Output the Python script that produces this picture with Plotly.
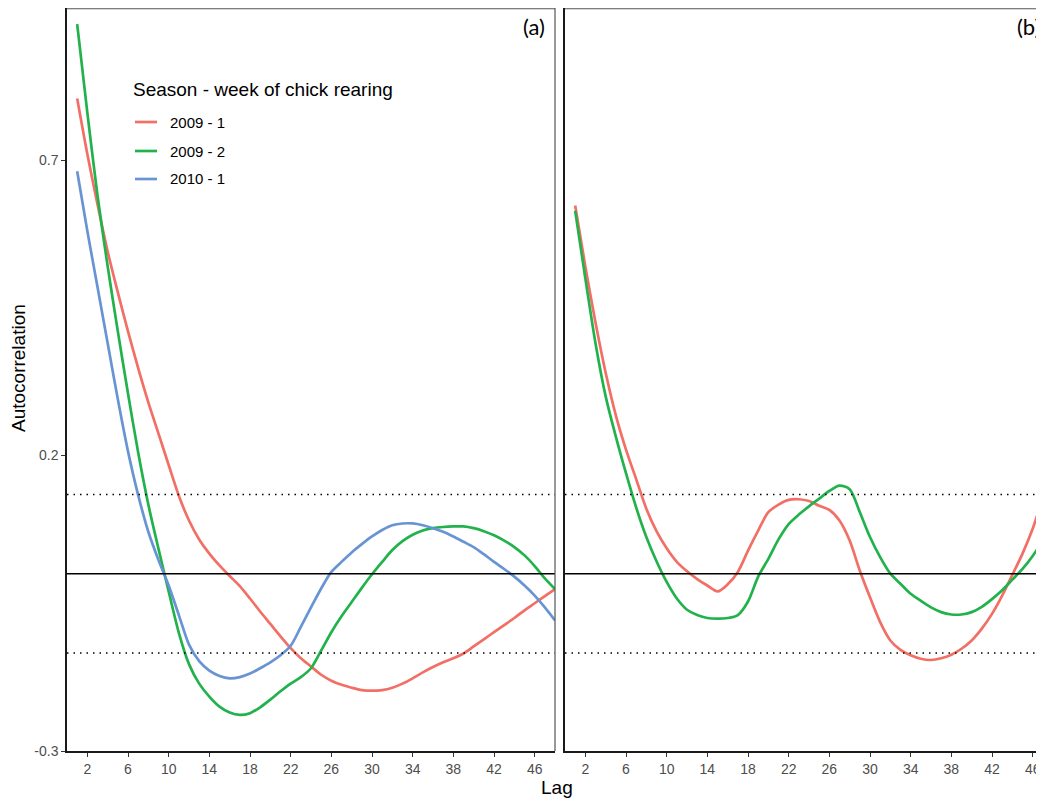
import plotly.graph_objects as go

# ---------------- data ----------------
lags = list(range(1, 49))

series_names = ["2009 - 1", "2009 - 2", "2010 - 1"]
series_colors = ["#F26F66", "#22B24C", "#6894D4"]

# panel (a)
acf_a_2009_1 = [0.804, 0.71, 0.625, 0.545, 0.476, 0.41, 0.348, 0.29, 0.237, 0.184,
                0.132, 0.090, 0.058, 0.034, 0.014, -0.004, -0.021, -0.042, -0.064, -0.085,
                -0.106, -0.126, -0.143, -0.157, -0.171, -0.181, -0.188, -0.193, -0.197, -0.198,
                -0.197, -0.193, -0.186, -0.177, -0.167, -0.158, -0.150, -0.143, -0.135, -0.123,
                -0.111, -0.099, -0.087, -0.075, -0.062, -0.050, -0.038, -0.026]
acf_a_2009_2 = [0.930, 0.78, 0.64, 0.52, 0.41, 0.305, 0.205, 0.117, 0.042, -0.030,
                -0.100, -0.153, -0.186, -0.208, -0.225, -0.235, -0.239, -0.236, -0.226, -0.213,
                -0.199, -0.186, -0.175, -0.160, -0.130, -0.099, -0.072, -0.048, -0.024, -0.001,
                0.020, 0.040, 0.055, 0.066, 0.073, 0.077, 0.079, 0.080, 0.080, 0.077,
                0.072, 0.065, 0.056, 0.045, 0.031, 0.013, -0.008, -0.026]
acf_a_2010_1 = [0.681, 0.58, 0.485, 0.39, 0.295, 0.207, 0.133, 0.071, 0.023, -0.020,
                -0.070, -0.120, -0.148, -0.164, -0.173, -0.177, -0.175, -0.169, -0.160, -0.150,
                -0.138, -0.122, -0.090, -0.057, -0.025, 0.003, 0.020, 0.036, 0.050, 0.063,
                0.074, 0.082, 0.085, 0.085, 0.082, 0.077, 0.071, 0.063, 0.054, 0.045,
                0.033, 0.020, 0.008, -0.005, -0.020, -0.037, -0.057, -0.079]

# panel (b)
acf_b_2009_1 = [0.623, 0.52, 0.425, 0.34, 0.268, 0.21, 0.160, 0.110, 0.072, 0.043,
                0.020, 0.004, -0.009, -0.020, -0.030, -0.018, 0.003, 0.039, 0.073, 0.104,
                0.117, 0.125, 0.126, 0.123, 0.115, 0.108, 0.090, 0.056, 0.005, -0.040,
                -0.082, -0.113, -0.129, -0.138, -0.144, -0.146, -0.143, -0.137, -0.127, -0.113,
                -0.093, -0.068, -0.037, -0.002, 0.034, 0.076, 0.128, 0.180]
acf_b_2009_2 = [0.614, 0.50, 0.39, 0.30, 0.232, 0.170, 0.112, 0.062, 0.021, -0.014,
                -0.042, -0.061, -0.070, -0.075, -0.076, -0.075, -0.070, -0.047, -0.005, 0.025,
                0.058, 0.084, 0.100, 0.114, 0.127, 0.140, 0.149, 0.143, 0.104, 0.062,
                0.028, 0.000, -0.017, -0.034, -0.046, -0.057, -0.065, -0.069, -0.069, -0.065,
                -0.056, -0.043, -0.028, -0.010, 0.008, 0.030, 0.056, 0.086]

conf_limit = 0.134
x_ticks = [2, 6, 10, 14, 18, 22, 26, 30, 34, 38, 42, 46]
y_ticks = [0.7, 0.2, -0.3]
y_tick_labels = ["0.7", "0.2", "-0.3"]
legend_title = "Season - week of chick rearing"
panel_labels = ["(a)", "(b)"]

# ---------------- layout geometry ----------------
# page body has an 8px default margin: work in screen pixels and shift
OFF = 8
W, H = 1044 - OFF, 800 - OFF
L_M, R_M, T_M = 67 - OFF, 0, 0
AX_BOTTOM = 751 - OFF              # figure px of the x axis line
B_M = H - AX_BOTTOM
PW = W - L_M - R_M
PH = AX_BOTTOM - T_M
PX_PER_UNIT = 591.0
Y_MIN = -0.3
Y_MAX = Y_MIN + PH / PX_PER_UNIT


def px_x(sx):
    return (sx - OFF - L_M) / PW


def px_y(sy):
    return (AX_BOTTOM - (sy - OFF)) / PH


FONT = "Liberation Sans, Arial, sans-serif"
LW = 2.7

fig = go.Figure()

panel_a = [(series_names[0], acf_a_2009_1, series_colors[0]),
           (series_names[1], acf_a_2009_2, series_colors[1]),
           (series_names[2], acf_a_2010_1, series_colors[2])]
panel_b = [(series_names[0], acf_b_2009_1, series_colors[0]),
           (series_names[1], acf_b_2009_2, series_colors[1])]

for name, vals, col in panel_a:
    fig.add_trace(go.Scatter(x=lags, y=vals, mode="lines", name=name, showlegend=False,
                             line=dict(color=col, width=LW, shape="spline", smoothing=0.8),
                             xaxis="x", yaxis="y"))
for name, vals, col in panel_b:
    fig.add_trace(go.Scatter(x=lags, y=vals, mode="lines", name=name, showlegend=False,
                             line=dict(color=col, width=LW, shape="spline", smoothing=0.8),
                             xaxis="x2", yaxis="y2"))

axis_common = dict(showgrid=False, zeroline=False, showline=True, linecolor="#1a1a1a",
                   linewidth=1.5, ticks="outside", ticklen=4, tickwidth=1.2, tickcolor="#333333",
                   tickfont=dict(family=FONT, size=14, color="#4d4d4d"))

a_dom = [0, px_x(555)]
b_dom = [px_x(565), 1]
panel_b_right_screen = 1053
b_range_max = 48 * (1044 - 565) / (panel_b_right_screen - 565)

fig.update_layout(
    width=W, height=H,
    margin=dict(l=L_M, r=R_M, t=T_M, b=B_M, pad=0),
    paper_bgcolor="white", plot_bgcolor="white",
    showlegend=False,
    xaxis=dict(domain=a_dom, range=[0, 48], tickvals=x_ticks, anchor="y", **axis_common),
    yaxis=dict(domain=[0, 1], range=[Y_MIN, Y_MAX], tickvals=y_ticks, ticktext=y_tick_labels,
               anchor="x", **axis_common),
    xaxis2=dict(domain=b_dom, range=[0, b_range_max], tickvals=x_ticks, anchor="y2", **axis_common),
    yaxis2=dict(domain=[0, 1], range=[Y_MIN, Y_MAX], anchor="x2", showgrid=False, zeroline=False,
                showline=True, linecolor="#1a1a1a", linewidth=1.5, ticks="",
                showticklabels=False),
)

shapes = []
for xr, yr in [("x", "y"), ("x2", "y2")]:
    shapes.append(dict(type="line", xref=f"{xr} domain", yref=yr, x0=0, x1=1, y0=0, y1=0,
                       line=dict(color="black", width=1.5)))
    for v in (conf_limit, -conf_limit):
        shapes.append(dict(type="line", xref=f"{xr} domain", yref=yr, x0=0, x1=1, y0=v, y1=v,
                           line=dict(color="black", width=1.5, dash="1.5px,5px")))
    # top border
    shapes.append(dict(type="line", xref=f"{xr} domain", yref=f"{yr} domain", x0=0, x1=1,
                       y0=0.999, y1=0.999, line=dict(color="#555555", width=1.2)))
# right border of panel a
shapes.append(dict(type="line", xref="x domain", yref="y domain", x0=1, x1=1, y0=0, y1=1,
                   line=dict(color="#555555", width=1.2)))

# legend line samples
legend_rows_px = [122, 151, 179]
for col, ypx in zip(series_colors, legend_rows_px):
    shapes.append(dict(type="line", xref="paper", yref="paper",
                       x0=px_x(135), x1=px_x(157), y0=px_y(ypx), y1=px_y(ypx),
                       line=dict(color=col, width=LW)))

annotations = [
    dict(text="Autocorrelation", xref="paper", yref="paper", x=px_x(18), y=px_y(368),
         textangle=-90, showarrow=False, xanchor="center", yanchor="middle",
         font=dict(family=FONT, size=19, color="black")),
    dict(text="Lag", xref="paper", yref="paper", x=px_x(557), y=px_y(787),
         showarrow=False, xanchor="center", yanchor="middle",
         font=dict(family=FONT, size=19, color="black")),
    dict(text=legend_title, xref="paper", yref="paper", x=px_x(131), y=px_y(90),
         showarrow=False, xanchor="left", yanchor="middle",
         font=dict(family=FONT, size=19, color="black")),
    dict(text=panel_labels[0], xref="paper", yref="paper", x=px_x(521), y=px_y(27),
         showarrow=False, xanchor="left", yanchor="middle",
         font=dict(family="Lato, Open Sans, sans-serif", size=22, color="black")),
    dict(text=panel_labels[1], xref="paper", yref="paper", x=px_x(1015), y=px_y(27),
         showarrow=False, xanchor="left", yanchor="middle",
         font=dict(family="Lato, Open Sans, sans-serif", size=22, color="black")),
]
for name, ypx in zip(series_names, legend_rows_px):
    annotations.append(dict(text=name, xref="paper", yref="paper", x=px_x(168), y=px_y(ypx),
                            showarrow=False, xanchor="left", yanchor="middle",
                            font=dict(family=FONT, size=15, color="black")))

fig.update_layout(shapes=shapes, annotations=annotations)
fig.write_html("out.html")
